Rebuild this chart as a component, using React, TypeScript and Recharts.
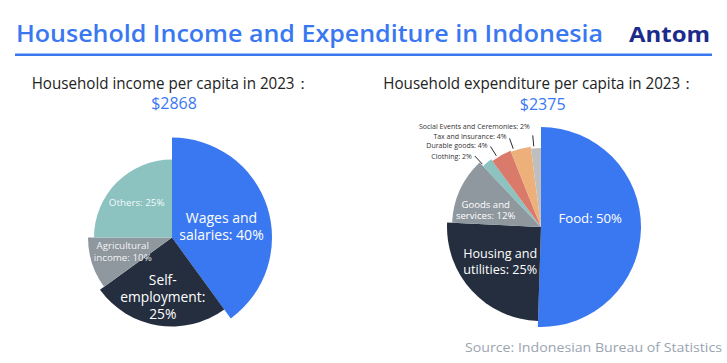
import { PieChart, Pie, Cell } from "recharts";

// income split (% of per-capita income)
const incomeNames = ["Wages and salaries", "Self-employment", "Agricultural income", "Others"];
const incomeShares = [40, 25, 10, 25];
const incomeTotal = "$2868";

// expenditure split (% of per-capita spending)
const expenseNames = [
  "Food",
  "Housing and utilities",
  "Goods and services",
  "Clothing",
  "Durable goods",
  "Tax and Insurance",
  "Social Events and Ceremonies",
];
const expenseShares = [50, 25, 12, 2, 4, 4, 2];
const expenseTotal = "$2375";

const FONT = '"Open Sans", "Noto Sans", sans-serif';
const BLUE = "#3A78F2";
const NAVY = "#242E3E";

// styling per slice
const INCOME_STYLE = [
  { color: BLUE, radius: 100, labelR: 51, nudge: -4, size: 14, lh: 16.8, lines: ["Wages and", "salaries: 40%"], opacity: 1 },
  { color: NAVY, radius: 89, labelR: 59, nudge: 0, size: 13.8, lh: 17, lines: ["Self-", "employment:", "25%"], opacity: 1 },
  { color: "#8F979F", radius: 84, labelR: 51, nudge: -3, size: 9.8, lh: 12.2, lines: ["Agricultural", "income: 10%"], opacity: 0.92 },
  { color: "#8CC3C1", radius: 78, labelR: 50, nudge: 0, size: 9.8, lh: 12, lines: ["Others: 25%"], opacity: 0.92 },
];

const EXPENSE_STYLE = [
  { color: BLUE, radius: 100, labelR: 50, nudge: 11, size: 13.2, lh: 16, lines: ["Food: 50%"], outside: false, lift: 0 },
  { color: NAVY, radius: 94, labelR: 53, nudge: -3, size: 12.6, lh: 16, lines: ["Housing and", "utilities: 25%"], outside: false, lift: 0 },
  { color: "#8F979F", radius: 89, labelR: 58, nudge: 7, size: 9.6, lh: 11.6, lines: ["Goods and", "services: 12%"], outside: false, lift: 0 },
  { color: "#8CC3C1", radius: 84, labelR: 0, nudge: 3, size: 7, lh: 8, lines: ["Clothing: 2%"], outside: true, lift: 0 },
  { color: "#D97A6B", radius: 82, labelR: 0, nudge: 3, size: 7, lh: 8, lines: ["Durable goods: 4%"], outside: true, lift: 1 },
  { color: "#EDB07A", radius: 81, labelR: 0, nudge: 5, size: 7, lh: 8, lines: ["Tax and Insurance: 4%"], outside: true, lift: 2 },
  { color: "#BFBFBF", radius: 79, labelR: 0, nudge: 1.5, size: 7, lh: 8, lines: ["Social Events and Ceremonies: 2%"], outside: true, lift: 9 },
];

const RAD = Math.PI / 180;
const polar = (cx: number, cy: number, r: number, deg: number) => ({
  x: cx + r * Math.cos(-deg * RAD),
  y: cy + r * Math.sin(-deg * RAD),
});

function makeLabel(style: any, only: number) {
  return (props: any) => {
    const { cx, cy, midAngle, index } = props;
    if (index !== only) return null;
    const ang = midAngle + style.nudge;
    if (style.outside) {
      const a = polar(cx, cy, style.radius + 2, ang);
      const b = polar(cx, cy, style.radius + 13, ang);
      return (
        <g>
          <line x1={a.x} y1={a.y} x2={b.x} y2={b.y} stroke="#2a2a2a" strokeWidth={1} />
          <text
            x={b.x - 3}
            y={b.y - style.lift}
            textAnchor="end"
            dominantBaseline="central"
            fontSize={style.size}
            fontFamily={FONT}
            fill="#333"
          >
            {style.lines[0]}
          </text>
        </g>
      );
    }
    const p = polar(cx, cy, style.labelR, ang);
    const top = p.y - ((style.lines.length - 1) * style.lh) / 2;
    return (
      <text
        textAnchor="middle"
        dominantBaseline="central"
        fontSize={style.size}
        fontFamily={FONT}
        fill="#fff"
        fillOpacity={style.opacity ?? 1}
      >
        {style.lines.map((l: string, k: number) => (
          <tspan key={k} x={p.x} y={top + k * style.lh}>
            {l}
          </tspan>
        ))}
      </text>
    );
  };
}

export default function App() {
  const incomeData = incomeNames.map((name, i) => ({ name, value: incomeShares[i] }));
  const expenseData = expenseNames.map((name, i) => ({ name, value: expenseShares[i] }));

  return (
    <div style={{ position: "absolute", left: 0, top: 0, width: 727, height: 363, background: "#fff", fontFamily: FONT }}>
      <div style={{ position: "absolute", left: 0, top: 0 }}>
        <PieChart width={727} height={363} margin={{ top: 0, right: 0, bottom: 0, left: 0 }}>
          {INCOME_STYLE.map((s, i) => (
            <Pie
              key={"inc" + i}
              data={incomeData}
              dataKey="value"
              nameKey="name"
              cx={172}
              cy={237.5}
              outerRadius={s.radius}
              startAngle={90}
              endAngle={-270}
              stroke="none"
              isAnimationActive={false}
              labelLine={false}
              label={makeLabel(s, i)}
            >
              {incomeData.map((_, j) => (
                <Cell key={j} fill={j === i ? s.color : "transparent"} />
              ))}
            </Pie>
          ))}
          {EXPENSE_STYLE.map((s, i) => (
            <Pie
              key={"exp" + i}
              data={expenseData}
              dataKey="value"
              nameKey="name"
              cx={541}
              cy={227}
              outerRadius={s.radius}
              startAngle={90}
              endAngle={-270}
              stroke="none"
              isAnimationActive={false}
              labelLine={false}
              label={makeLabel(s, i)}
            >
              {expenseData.map((_, j) => (
                <Cell key={j} fill={j === i ? s.color : "transparent"} />
              ))}
            </Pie>
          ))}
        </PieChart>
      </div>
      <svg width={727} height={363} style={{ position: "absolute", left: 0, top: 0, pointerEvents: "none" }}>
        <text x={16} y={41.7} fontSize={24} fontWeight={600} fill={BLUE} fontFamily={FONT} textLength={587} lengthAdjust="spacingAndGlyphs">
          Household Income and Expenditure in Indonesia
        </text>
        <text x={629} y={41.5} fontSize={22} fontWeight={700} fill="#1B2B8C" fontFamily={FONT} textLength={81} lengthAdjust="spacingAndGlyphs">
          Antom
        </text>
        <rect x={15} y={53.5} width={697} height={2.5} fill={BLUE} />
        <text x={31.7} y={89} fontSize={16} fill="#222" fontFamily={FONT} textLength={278} lengthAdjust="spacingAndGlyphs">
          Household income per capita in 2023：
        </text>
        <text x={174} y={109} fontSize={16} fill={BLUE} textAnchor="middle" fontFamily={FONT}>
          {incomeTotal}
        </text>
        <text x={383.3} y={89} fontSize={16} fill="#222" fontFamily={FONT} textLength={312} lengthAdjust="spacingAndGlyphs">
          Household expenditure per capita in 2023：
        </text>
        <text x={542.7} y={110} fontSize={16} fill={BLUE} textAnchor="middle" fontFamily={FONT}>
          {expenseTotal}
        </text>
        <text x={465} y={352} fontSize={13} fill="#9AA4B0" fontFamily={FONT} textLength={257} lengthAdjust="spacingAndGlyphs">
          Source: Indonesian Bureau of Statistics
        </text>
      </svg>
    </div>
  );
}
